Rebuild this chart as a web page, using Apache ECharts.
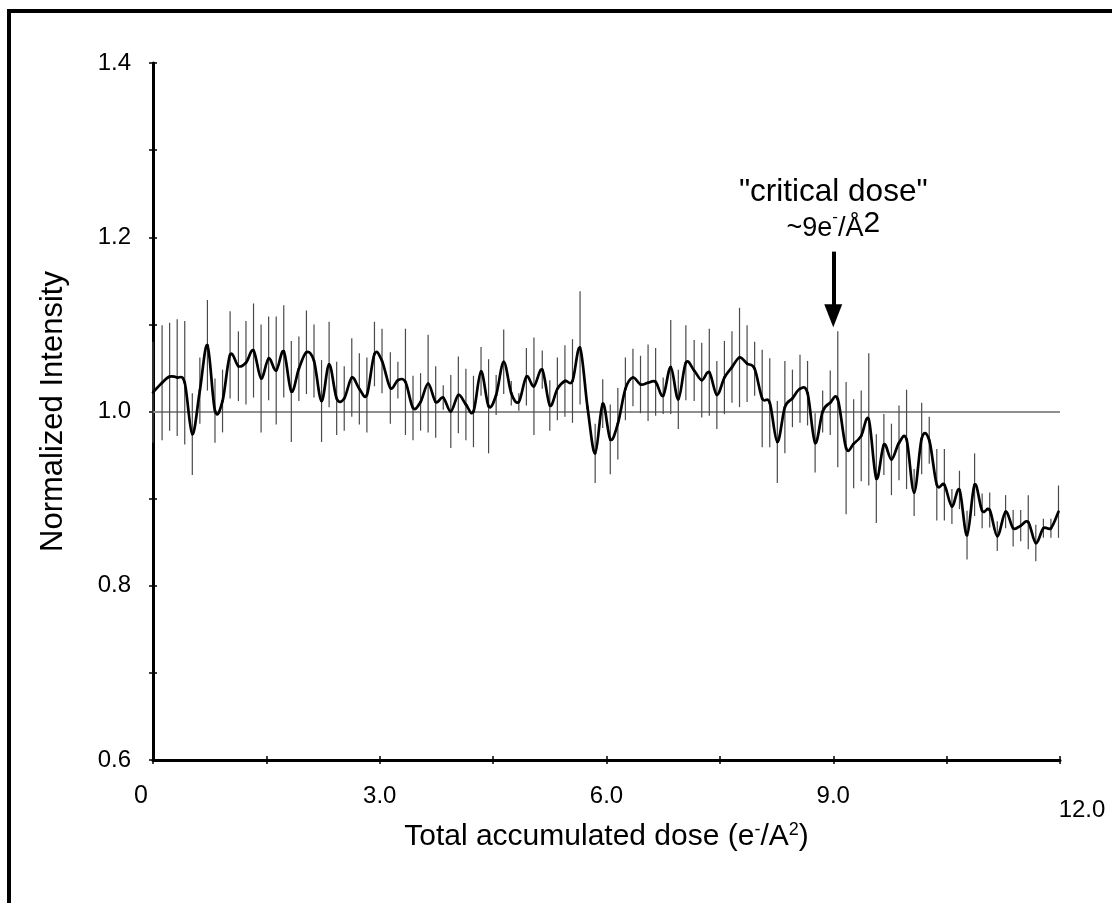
<!DOCTYPE html>
<html><head><meta charset="utf-8">
<script src="https://cdn.jsdelivr.net/npm/echarts@6/dist/echarts.min.js"></script>
<style>html,body{margin:0;padding:0;background:#fff}#c{width:1112px;height:903px}</style>
</head><body><div id="c"></div>
<script>
// Total accumulated dose (e-/A^2) of each measurement
const dose = [0,0.12,0.22,0.32,0.42,0.52,0.62,0.72,0.82,0.92,1.02,1.13,1.23,1.33,1.43,1.53,1.63,1.73,1.83,1.93,2.03,
  2.13,2.23,2.33,2.43,2.53,2.63,2.73,2.83,2.93,3.03,3.14,3.24,3.34,3.44,3.54,3.64,3.74,3.84,3.94,4.04,
  4.14,4.24,4.34,4.44,4.54,4.64,4.74,4.84,4.94,5.04,5.15,5.25,5.35,5.45,5.55,5.65,5.75,5.85,5.95,6.05,
  6.15,6.25,6.35,6.45,6.55,6.65,6.75,6.85,6.95,7.05,7.16,7.26,7.36,7.46,7.56,7.66,7.76,7.86,7.96,8.06,
  8.16,8.26,8.36,8.46,8.56,8.66,8.76,8.86,8.96,9.06,9.17,9.27,9.37,9.47,9.57,9.67,9.77,9.87,9.97,10.07,
  10.17,10.27,10.37,10.47,10.57,10.67,10.77,10.87,10.97,11.07,11.17,11.28,11.38,11.48,11.58,11.68,11.78,11.88,11.98];
// Normalized intensity
const intensity = [1.022,1.033,1.040,1.039,1.033,0.974,1.024,1.076,1.001,1.012,1.065,1.052,1.056,1.070,1.038,1.061,1.047,1.069,1.023,1.049,1.068,
  1.058,1.012,1.054,1.015,1.015,1.039,1.026,1.019,1.066,1.058,1.027,1.036,1.034,1.004,1.011,1.032,1.011,1.016,1.000,1.019,
  1.008,1.000,1.046,1.006,1.019,1.057,1.021,1.011,1.040,1.029,1.048,1.007,1.026,1.035,1.035,1.073,1.004,0.952,1.009,0.968,
  0.986,1.026,1.039,1.031,1.033,1.034,1.018,1.051,1.014,1.056,1.047,1.036,1.045,1.019,1.039,1.051,1.062,1.055,1.049,1.015,
  1.010,0.965,1.005,1.015,1.026,1.021,0.964,1.000,1.010,1.014,0.958,0.963,0.972,0.991,0.923,0.962,0.945,0.964,0.968,0.907,
  0.969,0.967,0.916,0.916,0.891,0.910,0.858,0.916,0.886,0.887,0.857,0.885,0.866,0.869,0.873,0.849,0.866,0.866,0.885];
// Half-length of each error bar
const errorHalf = [0.058,0.066,0.062,0.067,0.071,0.047,0.038,0.052,0.037,0.036,0.050,0.040,0.048,0.054,0.062,0.048,0.062,0.053,0.058,0.037,0.048,
  0.042,0.047,0.049,0.042,0.037,0.045,0.041,0.043,0.037,0.037,0.041,0.021,0.061,0.037,0.033,0.056,0.041,0.014,0.042,0.044,
  0.041,0.041,0.028,0.054,0.023,0.037,0.014,0.010,0.033,0.056,0.022,0.029,0.036,0.041,0.048,0.065,0.004,0.034,0.028,0.040,
  0.041,0.036,0.033,0.033,0.044,0.039,0.021,0.054,0.034,0.043,0.035,0.043,0.050,0.039,0.042,0.041,0.057,0.044,0.031,0.056,
  0.051,0.047,0.053,0.033,0.039,0.037,0.034,0.024,0.037,0.078,0.076,0.051,0.052,0.076,0.051,0.035,0.041,0.043,0.057,0.027,
  0.041,0.027,0.041,0.041,0.020,0.022,0.028,0.036,0.020,0.020,0.017,0.019,0.021,0.018,0.031,0.021,0.011,0.011,0.030];
const xTickLabels = ['0', '3.0', '6.0', '9.0', '12.0'];
const yTickLabels = ['0.6', '0.8', '1.0', '1.2', '1.4'];
const referenceLevel = 1.0;
const criticalDose = 9.0;

const FONT = '"Liberation Sans", Arial, Helvetica, sans-serif';
const chart = echarts.init(document.getElementById('c'), null, {renderer: 'canvas'});

const baseAxisX = {
  type: 'value', min: 0, max: 12, interval: 3, position: 'bottom',
  axisLine: {show: true, onZero: false, lineStyle: {color: '#000', width: 3}},
  splitLine: {show: false}
};
const baseAxisY = {
  type: 'value', min: 0.6, max: 1.4, interval: 0.2, position: 'left',
  axisLine: {show: true, onZero: false, lineStyle: {color: '#000', width: 3}},
  splitLine: {show: false}
};

// smooth curve (Catmull-Rom style) through the data points, drawn segment by segment
function renderCurve(params, api) {
  const i = params.dataIndex;
  const n = dose.length;
  if (i >= n - 1) return null;
  const P = function (k) {
    k = Math.max(0, Math.min(n - 1, k));
    return api.coord([dose[k], intensity[k]]);
  };
  const p0 = P(i - 1), p1 = P(i), p2 = P(i + 1), p3 = P(i + 2);
  const t = 1 / 6;
  return {
    type: 'bezierCurve',
    shape: {
      x1: p1[0], y1: p1[1], x2: p2[0], y2: p2[1],
      cpx1: p1[0] + (p2[0] - p0[0]) * t, cpy1: p1[1] + (p2[1] - p0[1]) * t,
      cpx2: p2[0] - (p3[0] - p1[0]) * t, cpy2: p2[1] - (p3[1] - p1[1]) * t
    },
    style: {stroke: '#000', fill: null, lineWidth: 2.7, lineCap: 'round', lineJoin: 'round'}
  };
}

const option = {
  backgroundColor: '#fff',
  animation: false,
  grid: {left: 153, right: 52, top: 63, bottom: 143, containLabel: false},
  graphic: [{
    type: 'rect', z: 100,
    shape: {x: 9, y: 11, width: 1200, height: 1000},
    style: {fill: 'none', stroke: '#000', lineWidth: 4}
  }],
  xAxis: [
    Object.assign({}, baseAxisX, {
      name: 'Total accumulated dose (e{sup|-}/A{sup|2})',
      nameLocation: 'middle', nameGap: 61, nameMoveOverlap: false,
      nameTextStyle: {fontFamily: FONT, fontSize: 30, color: '#000',
        rich: {sup: {fontFamily: FONT, fontSize: 18, color: '#000', verticalAlign: 'top', padding: [0, 0, 13, 0]}}},
      axisTick: {show: true, length: 4, lineStyle: {color: '#000', width: 1.5}},
      minorTick: {show: true, splitNumber: 2, length: 4, lineStyle: {color: '#000', width: 1.5}},
      axisLabel: {
        margin: 24, color: '#000', fontFamily: FONT, fontSize: 24,
        formatter: function (v) {
          const i = Math.round(v / 3);
          if (i === 0) return '{z|' + xTickLabels[i] + '}';
          if (i === xTickLabels.length - 1) return '{e|' + xTickLabels[i] + '}';
          return xTickLabels[i];
        },
        rich: {
          z: {fontFamily: FONT, fontSize: 25, color: '#000', padding: [0, 24, 0, 0]},
          e: {fontFamily: FONT, fontSize: 24, color: '#000', padding: [14, 0, 0, 44]}
        }
      }
    }),
    Object.assign({}, baseAxisX, {
      axisLine: {show: false},
      axisTick: {show: true, inside: true, length: 4, lineStyle: {color: '#000', width: 1.5}},
      minorTick: {show: true, splitNumber: 2, length: 4, lineStyle: {color: '#000', width: 1.5}},
      axisLabel: {show: false}
    })
  ],
  yAxis: [
    Object.assign({}, baseAxisY, {
      name: 'Normalized Intensity',
      nameLocation: 'middle', nameGap: 84, nameMoveOverlap: false,
      nameTextStyle: {fontFamily: FONT, fontSize: 31, color: '#000'},
      axisTick: {show: true, length: 4, lineStyle: {color: '#000', width: 1.5}},
      minorTick: {show: true, splitNumber: 2, length: 4, lineStyle: {color: '#000', width: 1.5}},
      axisLabel: {
        margin: 22, color: '#000', fontFamily: FONT, fontSize: 24,
        formatter: function (v) { return yTickLabels[Math.round((v - 0.6) / 0.2)]; }
      }
    }),
    Object.assign({}, baseAxisY, {
      axisLine: {show: false},
      axisTick: {show: true, inside: true, length: 4, lineStyle: {color: '#000', width: 1.5}},
      minorTick: {show: true, splitNumber: 2, length: 4, lineStyle: {color: '#000', width: 1.5}},
      axisLabel: {show: false}
    })
  ],
  series: [
    {
      type: 'custom', name: 'error', z: 2,
      xAxisIndex: 0, yAxisIndex: 0,
      data: dose.map(function (d, i) { return [d, intensity[i], errorHalf[i]]; }),
      renderItem: function (params, api) {
        const x = api.value(0), v = api.value(1), e = api.value(2);
        const p1 = api.coord([x, v + e]);
        const p2 = api.coord([x, v - e]);
        return {type: 'line', shape: {x1: p1[0], y1: p1[1], x2: p2[0], y2: p2[1]},
          style: {stroke: '#4a4a4a', lineWidth: 1.2}};
      },
      markLine: {
        silent: true, symbol: ['none', 'none'], z: 1,
        label: {show: false},
        lineStyle: {color: '#8f8f8f', width: 2, type: 'solid'},
        data: [{yAxis: referenceLevel}]
      }
    },
    {
      type: 'custom', name: 'intensity', z: 5,
      xAxisIndex: 0, yAxisIndex: 0,
      data: dose.map(function (d, i) { return [d, intensity[i]]; }),
      renderItem: renderCurve,
      markLine: {
        silent: true, symbol: ['none', 'triangle'], symbolSize: [18, 23],
        label: {show: false},
        lineStyle: {color: '#000', width: 4, type: 'solid'},
        data: [[{coord: [criticalDose, 1.1835]}, {coord: [criticalDose, 1.110]}]]
      },
      markPoint: {
        silent: true, symbol: 'circle', symbolSize: 0,
        data: [
          {coord: [criticalDose, 1.252], label: {show: true, position: 'inside',
            formatter: '"critical dose"', color: '#000', fontFamily: FONT, fontSize: 31.5}},
          {coord: [criticalDose, 1.210], label: {show: true, position: 'inside',
            formatter: '~9e{m|-}/Å{s|2}', color: '#000', fontFamily: FONT, fontSize: 27,
            rich: {
              m: {fontFamily: FONT, fontSize: 17, color: '#000', verticalAlign: 'top'},
              s: {fontFamily: FONT, fontSize: 30, color: '#000', verticalAlign: 'top', padding: [0, 0, 10, 0]}
            }}}
        ]
      }
    }
  ]
};
chart.setOption(option);
</script>
</body></html>
